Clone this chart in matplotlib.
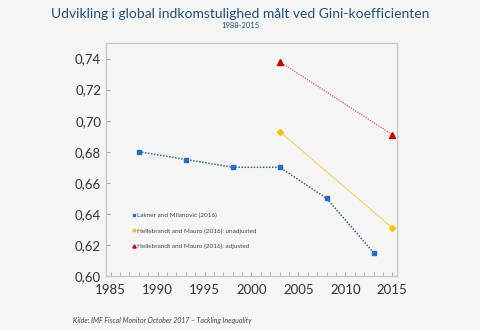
import matplotlib
matplotlib.use("Agg")
import matplotlib.pyplot as plt
from matplotlib.ticker import FuncFormatter, MultipleLocator

plt.rcParams['font.family'] = ['Lato', 'DejaVu Sans']

# data
lakner_years = [1988, 1993, 1998, 2003, 2008, 2013]
lakner_gini = [0.680, 0.675, 0.670, 0.670, 0.650, 0.615]
unadj_years = [2003, 2015]
unadj_gini = [0.693, 0.631]
adj_years = [2003, 2015]
adj_gini = [0.738, 0.691]

labels = ["Lakner and Milanović (2016)",
          "Hellebrandt and Mauro (2016): unadjusted",
          "Hellebrandt and Mauro (2016): adjusted"]

bg = "#f5f5f5"
fig = plt.figure(figsize=(4.8, 3.3), dpi=100, facecolor=bg)
ax = fig.add_axes([106/480, 1 - 276/330, (397 - 106)/480, (276 - 43)/330])
ax.set_facecolor(bg)

ax.plot(lakner_years, lakner_gini, color="#3a6590", ls=(0, (1, 1)), lw=1.1,
        marker="s", ms=3.2, mfc="#1f6fc6", mec="#1f6fc6", label=labels[0])
ax.plot(unadj_years, unadj_gini, color="#f9cf4a", lw=0.7,
        marker="D", ms=3.0, mfc="#ffc000", mec="#ffc000", label=labels[1])
ax.plot(adj_years, adj_gini, color="#e0555c", ls=(0, (1, 1)), lw=0.9,
        marker="^", ms=4.5, mfc="#c00000", mec="#c00000", label=labels[2])

ax.set_xlim(1984.5, 2015.5)
ax.set_ylim(0.60, 0.75)
ax.set_yticks([0.60, 0.62, 0.64, 0.66, 0.68, 0.70, 0.72, 0.74])
ax.xaxis.set_major_locator(MultipleLocator(5))
ax.xaxis.set_minor_locator(MultipleLocator(1))
ax.yaxis.set_major_formatter(FuncFormatter(lambda v, p: f"{v:.2f}".replace(".", ",")))
ax.tick_params(axis="both", which="both", direction="in", colors="#aaaaaa",
               labelcolor="#333333", labelsize=9.5)
ax.tick_params(axis="both", which="major", length=3)
ax.tick_params(axis="both", which="minor", length=3)
ax.tick_params(axis="x", pad=6)
for s in ax.spines.values():
    s.set_color("#c8c8c8")
    s.set_linewidth(1.0)

leg = ax.legend(loc="lower left", bbox_to_anchor=(0.07, 0.09), frameon=False,
                fontsize=4.6, handlelength=0.5, handletextpad=0.2,
                labelspacing=1.6, markerscale=0.5)
for line in leg.get_lines():
    line.set_linestyle("none")
for t in leg.get_texts():
    t.set_color("#444444")

fig.text(0.5, 1 - 14/330, "Udvikling i global indkomstulighed målt ved Gini-koefficienten",
         ha="center", va="center", fontsize=10, color="#1f4e79")
fig.text(0.5, 1 - 25.5/330, "1988-2015", ha="center", va="center",
         fontsize=5.5, color="#1f4e79")
fig.text(73/480, 1 - 320/330, "Kilde: IMF Fiscal Monitor October 2017 – Tackling Inequality",
         ha="left", va="center", fontsize=5, style="italic", color="#444444")

fig.savefig("out.png", dpi=100, facecolor=bg)
